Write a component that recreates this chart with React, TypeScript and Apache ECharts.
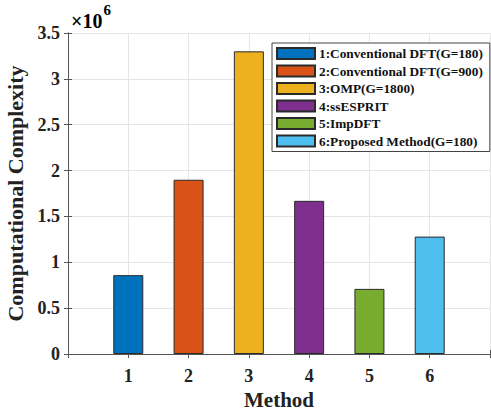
import React, { useEffect, useRef } from "react";
import * as echarts from "echarts";

const methodNames = [
  "1:Conventional DFT(G=180)",
  "2:Conventional DFT(G=900)",
  "3:OMP(G=1800)",
  "4:ssESPRIT",
  "5:ImpDFT",
  "6:Proposed Method(G=180)",
];
const methodIndex = [1, 2, 3, 4, 5, 6];
const complexity = [0.86e6, 1.9e6, 3.3e6, 1.67e6, 0.71e6, 1.28e6];
const barColors = ["#0072BD", "#D95319", "#EDB120", "#7E2F8E", "#77AC30", "#4DBEEE"];

const SERIF = "'Liberation Serif', 'Times New Roman', serif";

export default function App() {
  const ref = useRef<HTMLDivElement>(null);
  useEffect(() => {
    if (!ref.current) return;
    const chart = echarts.init(ref.current, null, { renderer: "svg" });
    const axisLineColor = "#555";
    const series = methodNames.map((name, i) => ({
      name,
      type: "bar",
      barWidth: 30,
      barGap: "-100%",
      data: [[methodIndex[i], complexity[i]]],
      itemStyle: { color: barColors[i], borderColor: "#2a2a2a", borderWidth: 1 },
    }));
    chart.setOption({
      animation: false,
      backgroundColor: "#fff",
      grid: {
        left: 68,
        right: 1,
        top: 33,
        bottom: 57,
        show: false,
        containLabel: false,
        outerBoundsMode: "none",
      },
      legend: {
        orient: "vertical",
        left: 272,
        top: 43,
        padding: [4, 7, 4, 4],
        itemWidth: 38,
        itemHeight: 11,
        itemGap: 4.5,
        backgroundColor: "#fff",
        borderColor: "#444",
        borderWidth: 1,
        borderRadius: 0,
        icon: "rect",
        textStyle: {
          fontFamily: SERIF,
          fontWeight: "bold",
          fontSize: 13.3,
          color: "#111",
          lineHeight: 11,
          padding: [0, 0, 0, -1],
        },
        data: methodNames,
      },
      xAxis: [
        {
          type: "value",
          min: 0,
          max: 7,
          interval: 1,
          name: "Method",
          nameLocation: "middle",
          nameGap: 35,
          nameTextStyle: { fontFamily: SERIF, fontWeight: "bold", fontSize: 21, lineHeight: 21, color: "#222" },
          axisLine: { show: true, lineStyle: { color: axisLineColor } },
          axisTick: { show: true, inside: true, length: 4, lineStyle: { color: axisLineColor } },
          axisLabel: {
            fontFamily: SERIF,
            fontWeight: "bold",
            fontSize: 18,
            color: "#222",
            margin: 13,
            formatter: (v: number) => (v >= 1 && v <= 6 ? String(v) : ""),
          },
          splitLine: { show: true, lineStyle: { color: "#e5e5e5" } },
        },
        {
          type: "value",
          position: "top",
          min: 0,
          max: 7,
          interval: 1,
          axisLine: { show: true, lineStyle: { color: axisLineColor } },
          axisTick: { show: true, inside: true, length: 4, lineStyle: { color: axisLineColor } },
          axisLabel: { show: false },
          splitLine: { show: false },
        },
      ],
      yAxis: [
        {
          type: "value",
          min: 0,
          max: 3.5e6,
          interval: 0.5e6,
          name: "Computational Complexity",
          nameLocation: "middle",
          nameRotate: 90,
          nameGap: 37,
          nameTextStyle: { fontFamily: SERIF, fontWeight: "bold", fontSize: 22, color: "#222" },
          axisLine: { show: true, lineStyle: { color: axisLineColor } },
          axisTick: { show: true, inside: true, length: 4, lineStyle: { color: axisLineColor } },
          axisLabel: {
            fontFamily: SERIF,
            fontWeight: "bold",
            fontSize: 18,
            color: "#222",
            margin: 8,
            formatter: (v: number) => String(v / 1e6),
          },
          splitLine: { show: true, lineStyle: { color: "#e5e5e5" } },
        },
        {
          type: "value",
          position: "right",
          min: 0,
          max: 3.5e6,
          interval: 0.5e6,
          axisLine: { show: true, lineStyle: { color: axisLineColor } },
          axisTick: { show: true, inside: true, length: 4, lineStyle: { color: axisLineColor } },
          axisLabel: { show: false },
          splitLine: { show: false },
        },
      ],
      graphic: [
        {
          type: "text",
          left: 71,
          top: 2,
          style: {
            text: "{a|×10}{b|6}",
            rich: {
              a: { fontFamily: SERIF, fontSize: 20, fontWeight: "bold", color: "#222", padding: [9, 0, 0, 0] },
              b: { fontFamily: SERIF, fontSize: 15, fontWeight: "bold", color: "#222", verticalAlign: "top", padding: [0, 0, 0, 1] },
            },
          },
        },
      ],
      series,
    });
    return () => chart.dispose();
  }, []);
  return (
    <div
      ref={ref}
      style={{ position: "fixed", left: 0, top: 0, width: 491, height: 411 }}
    />
  );
}
